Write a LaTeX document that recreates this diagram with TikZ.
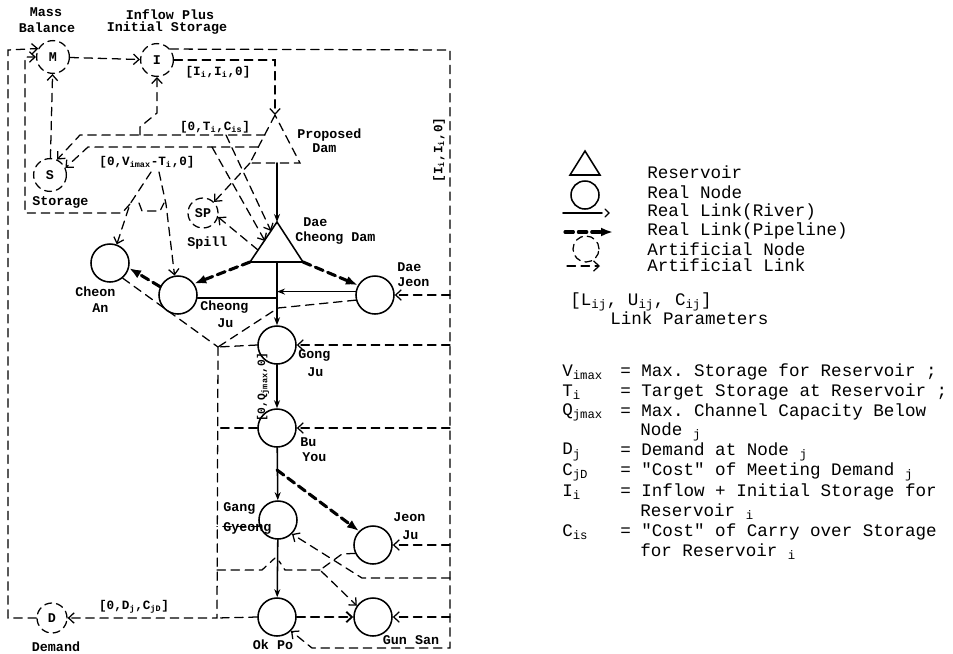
\documentclass[tikz,border=0pt]{standalone}
\usepackage{fontspec}
\setmonofont{Liberation Mono}
\usetikzlibrary{arrows.meta}
\tikzset{
  realnode/.style={circle,draw,line width=1.1pt,minimum size=0.95cm,inner sep=0pt},
  artnode/.style={circle,draw,line width=0.9pt,dash pattern=on 5pt off 3.5pt,minimum size=0.82cm,inner sep=0pt,font=\ttfamily\bfseries\fontsize{9.5}{10}\selectfont},
  river/.style={line width=1.1pt,-{Stealth[length=2mm]}},
  pipe/.style={line width=2.2pt,dash pattern=on 6pt off 3.5pt,-{Latex[length=3mm]}},
  artline/.style={line width=0.9pt,dash pattern=on 6pt off 4pt},
  artlink/.style={artline,-{Straight Barb[length=1.4mm,width=2.6mm]}},
  lbl/.style={font=\ttfamily\bfseries\fontsize{9.5}{10}\selectfont,inner sep=0pt},
  parlbl/.style={font=\ttfamily\bfseries\fontsize{9}{10}\selectfont,inner sep=0pt},
  lgtext/.style={font=\ttfamily\fontsize{12.5}{14}\selectfont,anchor=west,inner sep=0pt}
}
\begin{document}
\begin{tikzpicture}[x=0.025cm,y=-0.025cm,line cap=round]
\useasboundingbox (0,0) rectangle (953,653);
% artificial nodes
\node[artnode] (M) at (53,57) {M};
\node[artnode] (I) at (157,60) {I};
\node[artnode] (S) at (50,175) {S};
\node[artnode,minimum size=0.75cm] (SP) at (203,213) {SP};
\node[artnode,minimum size=0.75cm] (D) at (52,618) {D};
% real nodes
\node[realnode] (cheonan) at (110,263) {};
\node[realnode] (cheongju) at (178,295) {};
\node[realnode] (daejeon) at (375,295) {};
\node[realnode] (gongju) at (277,345) {};
\node[realnode] (buyou) at (277,428) {};
\node[realnode] (ganggyeong) at (278,520) {};
\node[realnode] (jeonju) at (373,545) {};
\node[realnode] (okpo) at (277,617) {};
\node[realnode] (gunsan) at (373,617) {};
% reservoirs
\coordinate (pdTop) at (275,115);
\coordinate (pdL) at (250,163);
\coordinate (pdR) at (300,163);
\coordinate (pdOut) at (277,163);
\coordinate (pdA) at (265,135);
\coordinate (pdB) at (258,147);
\draw[artline] (pdTop) -- (pdL) -- (pdR) -- cycle;
\coordinate (dcTop) at (277,222);
\coordinate (dcL) at (250,262);
\coordinate (dcR) at (303,262);
\coordinate (dcOut) at (277,262);
\coordinate (dcA) at (271,231);
\coordinate (dcB) at (265,241);
\coordinate (dcC) at (258,250);
\draw[line width=1.1pt,line join=miter] (dcTop) -- (dcL) -- (dcR) -- cycle;
% frame corners and junctions
\coordinate (tl) at (8,50);
\coordinate (ibTop) at (25,57);
\coordinate (tr) at (450,50);
\coordinate (br) at (450,648);
\coordinate (j1) at (218,347);
\coordinate (j2) at (217,618);
\coordinate (lamL) at (130,204);
\coordinate (lamR) at (166,204);
\coordinate (byTap) at (277,470);
\coordinate (jjk) at (320,570);
% artificial links
\draw[artlink] (D.west) -| (tl) -- (M.150);
\draw[artlink] (lamL) -- (122,213) -| (ibTop) -- (M.west);
\draw[artlink] (M) -- (I);
\draw[artlink] (S) -- (M);
\draw[artlink] (I.east) -| (pdTop);
\draw[artlink] (140,135) -- (140,127) -- (157,113) -- (I.south);
\draw[artlink] (pdA) -- (80,135) -- (S.65);
\draw[artlink] (pdB) -- (88,147) -- (S.25);
\draw[artlink] (226,135) -- (dcA);
\draw[artlink] (212,147) -- (dcB);
\draw[artlink] (pdL) -- (SP.45);
\draw[artlink] (dcC) -- (SP.-15);
\draw[artlink] (151,172) -- (lamL) -- (cheonan.70);
\draw[artlink] (159,172) -- (lamR) -- (cheongju.100);
\draw[artline] (139,203) -- (142,211) -- (160,211) -- (164,203);
\draw[artlink] (I.40) -- (tr) -- (br) -- (312,648) -- (okpo.-45);
\draw[artlink] (tr |- daejeon.east) -- (daejeon.east);
\draw[artlink] (tr |- gongju.east) -- (gongju.east);
\draw[artlink] (tr |- buyou.east) -- (buyou.east);
\draw[artlink] (tr |- jeonju.east) -- (jeonju.east);
\draw[artlink] (tr |- gunsan.east) -- (gunsan.east);
\draw[artlink] (450,578) -- (362,578) -- (ganggyeong.-45);
\draw[artline] (cheonan.-50) -- (j1);
\draw[artline] (daejeon.195) -- (278,308) -- (j1);
\draw[artline] (gongju.west) -- (j1);
\draw[artlink] (j1) -- (j2) -- (D.east);
\draw[artline] (buyou.west) -- (buyou.west -| j2);
\draw[artline] (ganggyeong.200) -- (ganggyeong.200 -| j2);
\draw[artline] (okpo.west) -- (j2);
\draw[artline] (217,570) -- (262,570) -- (275,558);
\draw[artlink] (jeonju.205) -- (342,554) -- (jjk) -- (gunsan.145);
\draw[artline] (jjk) -- (285,570) -- (279,561);
\draw[artlink,line width=1.3pt] (okpo) -- (gunsan);
% real links
\draw[river] (pdOut) -- (dcTop);
\draw[river] (dcOut) -- (gongju);
\draw[river] (daejeon.170) -- (daejeon.170 -| dcOut);
\draw[line width=1.1pt] (cheongju.-8) -- (cheongju.-8 -| dcOut);
\draw[river] (gongju) -- (buyou);
\draw[river] (buyou) -- (ganggyeong);
\draw[river] (ganggyeong) -- (okpo);
\draw[pipe] (dcL) -- (cheongju.35);
\draw[pipe] (cheongju.155) -- (cheonan.-15);
\draw[pipe] (dcR) -- (daejeon.150);
\draw[pipe] (byTap) -- (jeonju.135);
% node labels
\node[lbl] at (46,12) {Mass};
\node[lbl] at (47,28) {Balance};
\node[lbl] at (170,15) {Inflow Plus};
\node[lbl] at (167,28) {Initial Storage};
\node[lbl,anchor=west] at (32,202) {Storage};
\node[lbl,anchor=west] at (187,243) {Spill};
\node[lbl,anchor=west] at (297,135) {Proposed};
\node[lbl,anchor=west] at (312,148) {Dam};
\node[lbl,anchor=west] at (303,222) {Dae};
\node[lbl,anchor=west] at (295,238) {Cheong Dam};
\node[lbl,anchor=west] at (75,292) {Cheon};
\node[lbl,anchor=west] at (92,308) {An};
\node[lbl,anchor=west] at (200,307) {Cheong};
\node[lbl,anchor=west] at (217,323) {Ju};
\node[lbl,anchor=west] at (397,267) {Dae};
\node[lbl,anchor=west] at (397,282) {Jeon};
\node[lbl,anchor=west] at (298,355) {Gong};
\node[lbl,anchor=west] at (307,372) {Ju};
\node[lbl,anchor=west] at (300,442) {Bu};
\node[lbl,anchor=west] at (302,457) {You};
\node[lbl,anchor=west] at (223,508) {Gang};
\node[lbl,anchor=west] at (223,528) {Gyeong};
\node[lbl,anchor=west] at (393,517) {Jeon};
\node[lbl,anchor=west] at (402,535) {Ju};
\node[lbl] at (273,645) {Ok Po};
\node[lbl] at (411,640) {Gun San};
\node[lbl] at (56,647) {Demand};
% link parameters
\node[parlbl] at (218,72) {[I\textsubscript{i},I\textsubscript{i},0]};
\node[parlbl] at (215,127) {[0,T\textsubscript{i},C\textsubscript{is}]};
\node[parlbl,fill=white,inner sep=1pt] at (147,162) {[0,V\textsubscript{imax}-T\textsubscript{i},0]};
\node[parlbl,rotate=90] at (439,150) {[I\textsubscript{i},I\textsubscript{i},0]};
\node[parlbl,rotate=90,font=\ttfamily\bfseries\fontsize{8}{9}\selectfont] at (263,387) {[0,Q\textsubscript{jmax},0]};
\node[parlbl] at (134,607) {[0,D\textsubscript{j},C\textsubscript{jD}]};
% legend
\coordinate (lgTop) at (585,151);
\coordinate (lgL) at (570,175);
\coordinate (lgR) at (600,175);
\draw[line width=1.1pt] (lgTop) -- (lgL) -- (lgR) -- cycle;
\node[realnode,minimum size=0.7cm] (lgReal) at (585,195) {};
\coordinate (lgRivA) at (563,213);
\coordinate (lgRivB) at (602,213);
\draw[line width=1.1pt] (lgRivA) -- (lgRivB);
\draw[line width=0.9pt] (605,209) -- (609,213) -- (605,217);
\coordinate (lgPipeA) at (565,232);
\coordinate (lgPipeB) at (613,232);
\draw[pipe] (lgPipeA) -- (lgPipeB);
\node[artnode,minimum size=0.65cm] (lgArt) at (586,249) {};
\coordinate (lgArtA) at (567,266);
\coordinate (lgArtB) at (600,266);
\draw[artlink] (lgArtA) -- (lgArtB);
\node[lgtext] at (647,172) {Reservoir};
\node[lgtext] at (647,192) {Real Node};
\node[lgtext] at (647,212) {Real Link(River)};
\node[lgtext] at (647,231) {Real Link(Pipeline)};
\node[lgtext] at (647,249) {Artificial Node};
\node[lgtext] at (647,265) {Artificial Link};
\node[lgtext] at (570,302) {[L\textsubscript{ij}, U\textsubscript{ij}, C\textsubscript{ij}]};
\node[lgtext] at (610,318) {Link Parameters};
\node[lgtext] at (562,372) {V\textsubscript{imax}};
\node[lgtext] at (562,392) {T\textsubscript{i}};
\node[lgtext] at (562,412) {Q\textsubscript{jmax}};
\node[lgtext] at (562,452) {D\textsubscript{j}};
\node[lgtext] at (562,472) {C\textsubscript{jD}};
\node[lgtext] at (562,492) {I\textsubscript{i}};
\node[lgtext] at (562,532) {C\textsubscript{is}};
\node[lgtext] at (620,372) {= Max. Storage for Reservoir ;};
\node[lgtext] at (620,392) {= Target Storage at Reservoir ;};
\node[lgtext] at (620,412) {= Max. Channel Capacity Below};
\node[lgtext] at (640,432) {Node \textsubscript{j}};
\node[lgtext] at (620,452) {= Demand at Node \textsubscript{j}};
\node[lgtext] at (620,472) {= "Cost" of Meeting Demand \textsubscript{j}};
\node[lgtext] at (620,492) {= Inflow + Initial Storage for};
\node[lgtext] at (640,512) {Reservoir \textsubscript{i}};
\node[lgtext] at (620,532) {= "Cost" of Carry over Storage};
\node[lgtext] at (640,552) {for Reservoir \textsubscript{i}};
\end{tikzpicture}
\end{document}
